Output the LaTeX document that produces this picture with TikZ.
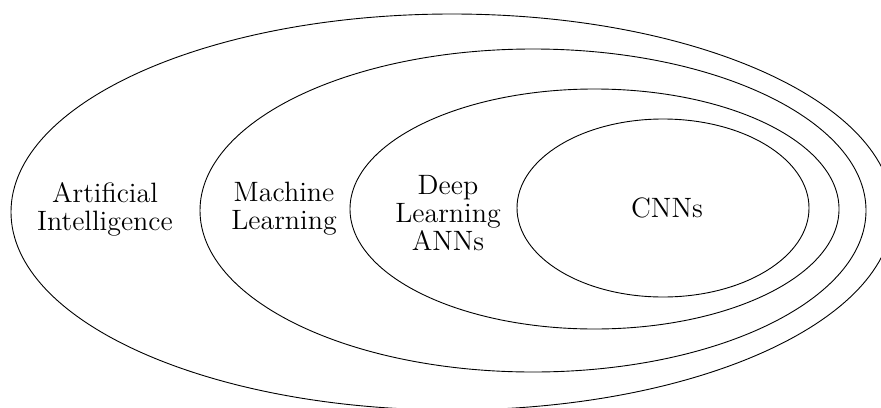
\documentclass[tikz,border=0pt]{standalone}
\begin{document}
\begin{tikzpicture}[x=0.5pt,y=-0.5pt,
  ring/.style={draw=black,line width=0.45pt},
  label/.style={font=\fontsize{14}{14}\selectfont,align=center,inner sep=0pt}]
\useasboundingbox (0,0) rectangle (881,407);
\clip (0,0) rectangle (881,407);
% nested fields, outermost first
\draw[ring] (452,212) ellipse [x radius=441, y radius=198];
\draw[ring] (533,210.5) ellipse [x radius=333, y radius=161.5];
\draw[ring] (594.5,209) ellipse [x radius=244.5, y radius=120];
\draw[ring] (663,208) ellipse [x radius=146, y radius=89];
% field names
\node[label] (ai) at (105,209) {Artificial\\Intelligence};
\node[label] (ml) at (284,209) {Machine\\Learning};
\node[label] (dl) at (448,213) {Deep\\Learning\\ANNs};
\node[label] (cnn) at (667,208) {CNNs};
\end{tikzpicture}
\end{document}
